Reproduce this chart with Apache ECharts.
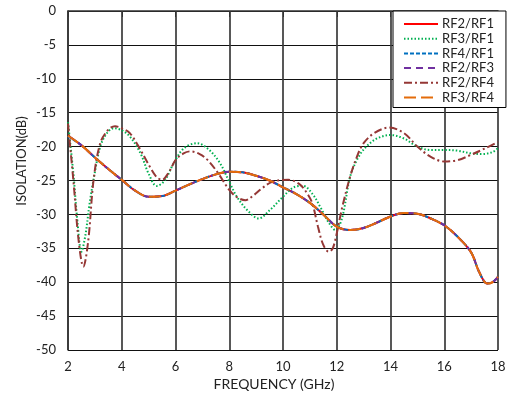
<!DOCTYPE html>
<html>
<head>
<meta charset="utf-8">
<script src="https://cdn.jsdelivr.net/npm/echarts@6/dist/echarts.min.js"></script>
<style>
  html, body { margin: 0; padding: 0; background: #fff; }
  #chart { width: 511px; height: 396px; }
</style>
</head>
<body>
<div id="chart"></div>
<script>
// frequency (GHz) / isolation (dB)
const mainX = [2, 2.5, 3, 3.5, 4, 4.5, 5, 5.5, 6, 6.5, 7, 7.5, 8, 8.5, 9, 9.5, 10, 10.5, 11, 11.5, 12, 12.5, 13, 13.5, 14, 14.5, 15, 15.5, 16, 16.5, 17, 17.3, 17.6, 17.8, 18];
const rf2rf1 = [-18.4, -19.8, -21.6, -23.3, -24.9, -26.5, -27.4, -27.3, -26.5, -25.6, -24.8, -24.1, -23.7, -23.8, -24.3, -25.0, -26.0, -27.0, -28.3, -30.0, -31.8, -32.3, -32.0, -31.2, -30.3, -29.8, -29.9, -30.6, -31.6, -33.3, -35.6, -38.5, -40.2, -40.0, -39.2];
const rf4rf1 = [-18.5, -19.8, -21.6, -23.3, -24.9, -26.5, -27.4, -27.3, -26.5, -25.6, -24.8, -24.1, -23.7, -23.8, -24.3, -25.0, -26.0, -27.0, -28.3, -30.0, -31.8, -32.3, -32.0, -31.2, -30.3, -29.8, -29.9, -30.6, -31.6, -33.3, -35.6, -38.5, -40.2, -40.0, -39.2];
const rf2rf3 = [-18.4, -19.8, -21.6, -23.3, -24.9, -26.5, -27.4, -27.3, -26.5, -25.6, -24.8, -24.1, -23.7, -23.8, -24.3, -25.0, -26.0, -27.0, -28.3, -30.0, -31.8, -32.3, -32.0, -31.2, -30.3, -29.8, -29.9, -30.6, -31.6, -33.3, -35.6, -38.5, -40.2, -40.0, -39.2];
const rf3rf4 = [-18.4, -19.8, -21.6, -23.3, -24.9, -26.5, -27.4, -27.3, -26.5, -25.6, -24.8, -24.1, -23.7, -23.8, -24.3, -25.0, -26.0, -27.0, -28.3, -30.0, -31.8, -32.3, -32.0, -31.2, -30.3, -29.8, -29.9, -30.6, -31.6, -33.3, -35.6, -38.5, -40.2, -40.0, -39.2];

const rf3rf1X = [2, 2.2, 2.35, 2.5, 2.65, 2.8, 2.95, 3.2, 3.45, 3.7, 4.0, 4.3, 4.7, 5.0, 5.3, 5.6, 5.9, 6.3, 6.8, 7.2, 7.65, 8.0, 8.3, 8.7, 9.1, 9.5, 10.0, 10.4, 10.75, 11.1, 11.4, 11.7, 11.95, 12.2, 12.5, 12.8, 13.1, 13.5, 14.0, 14.5, 15.0, 15.5, 16.0, 16.5, 17.0, 17.4, 17.8, 18.0];
const rf3rf1 = [-16.4, -24, -31, -35.5, -33, -28.5, -24.9, -20.0, -18.0, -17.3, -17.6, -18.5, -21.0, -24.0, -25.8, -25.0, -22.7, -20.3, -19.5, -20.3, -22.4, -25.2, -27.5, -29.5, -30.6, -29.4, -27.4, -26.0, -25.8, -27.0, -29.0, -31.2, -32.3, -30.5, -24.4, -21.6, -20.0, -18.8, -18.3, -18.8, -20.0, -20.5, -20.5, -20.6, -21.0, -21.1, -20.8, -20.2];

const rf2rf4X = [2, 2.2, 2.4, 2.57, 2.75, 2.95, 3.2, 3.5, 3.75, 4.0, 4.3, 4.7, 5.05, 5.3, 5.5, 5.75, 6.0, 6.3, 6.55, 6.9, 7.2, 7.6, 8.0, 8.3, 8.6, 8.9, 9.2, 9.6, 10.2, 10.6, 10.9, 11.1, 11.3, 11.5, 11.7, 11.85, 12.0, 12.2, 12.5, 12.75, 13.0, 13.4, 13.95, 14.5, 15.0, 15.5, 16.0, 16.5, 17.0, 17.5, 18.0];
const rf2rf4 = [-16.6, -25, -34, -37.7, -34, -25, -19.5, -17.5, -17.0, -17.3, -18.0, -20.5, -23.0, -24.5, -24.9, -23.8, -22.0, -21.0, -20.7, -21.1, -22.0, -24.0, -26.4, -27.5, -27.9, -27.2, -26.2, -25.2, -24.9, -25.5, -26.9, -28.5, -31.8, -34.5, -35.5, -35.0, -32.8, -29, -24.4, -21.5, -19.5, -18.0, -17.2, -18.0, -20.0, -21.5, -22.2, -22.0, -21.2, -20.3, -19.3];

const names = ['RF2/RF1', 'RF3/RF1', 'RF4/RF1', 'RF2/RF3', 'RF2/RF4', 'RF3/RF4'];

function pairs(xs, ys) {
  return xs.map((x, i) => [x, ys[i]]);
}

const font = 'Lato';

function line(name, data, color, type) {
  return {
    name: name,
    type: 'line',
    data: data,
    smooth: 0.35,
    symbol: 'none',
    lineStyle: { color: color, width: 2, type: type },
    itemStyle: { color: color }
  };
}

const chart = echarts.init(document.getElementById('chart'), null, { renderer: 'canvas' });

chart.setOption({
  backgroundColor: '#fff',
  animation: false,
  textStyle: { fontFamily: font },
  grid: { left: 68, right: 13, top: 11, bottom: 46 },
  legend: {
    orient: 'vertical',
    left: 393,
    top: 11,
    width: 107,
    data: names,
    itemWidth: 34,
    itemHeight: 10,
    itemGap: 0.7,
    itemStyle: { opacity: 0 },
    padding: [6, 12, 3, 10],
    backgroundColor: '#fff',
    borderColor: '#000',
    borderWidth: 1,
    borderRadius: 0,
    textStyle: { fontFamily: font, fontSize: 13, lineHeight: 14, color: '#222', padding: [0, 0, 0, -1] }
  },
  xAxis: {
    type: 'value',
    min: 2,
    max: 18,
    interval: 2,
    axisLine: { show: true, lineStyle: { color: '#333', width: 1.5 } },
    axisTick: { show: true, length: 6, lineStyle: { color: '#333' } },
    axisLabel: { fontFamily: font, fontSize: 13, color: '#222', margin: 10 },
    splitLine: { show: true, lineStyle: { color: '#3a3a3a', width: 1.7 } }
  },
  yAxis: {
    type: 'value',
    min: -50,
    max: 0,
    interval: 5,
    axisLine: { show: true, lineStyle: { color: '#333', width: 1.5 } },
    axisTick: { show: false },
    axisLabel: { fontFamily: font, fontSize: 13, color: '#222', margin: 12 },
    splitLine: { show: true, lineStyle: { color: '#111', width: 1.2 } }
  },
  graphic: [
    {
      type: 'text',
      x: 274,
      y: 384,
      style: { text: 'FREQUENCY (GHz)', font: '14px Lato', fill: '#222', align: 'center', verticalAlign: 'middle' }
    },
    {
      type: 'text',
      x: 22,
      y: 161,
      rotation: Math.PI / 2,
      style: { text: 'ISOLATION(dB)', font: '13px Lato', fill: '#222', align: 'center', verticalAlign: 'middle' }
    }
  ],
  series: [
    line('RF2/RF1', pairs(mainX, rf2rf1), '#FF0000', 'solid'),
    line('RF3/RF1', pairs(rf3rf1X, rf3rf1), '#00B050', [1.5, 2]),
    line('RF4/RF1', pairs(mainX, rf4rf1), '#0070C0', [4, 2]),
    line('RF2/RF3', pairs(mainX, rf2rf3), '#7030A0', [7, 5]),
    line('RF2/RF4', pairs(rf2rf4X, rf2rf4), '#953735', [8, 3, 2, 3]),
    line('RF3/RF4', pairs(mainX, rf3rf4), '#E46C0A', [12, 5])
  ]
});
</script>
</body>
</html>
